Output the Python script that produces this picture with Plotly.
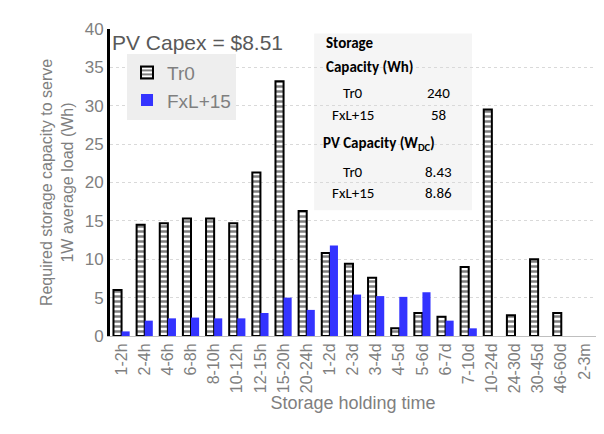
import plotly.graph_objects as go

categories = ["1-2h", "2-4h", "4-6h", "6-8h", "8-10h", "10-12h", "12-15h", "15-20h",
              "20-24h", "1-2d", "2-3d", "3-4d", "4-5d", "5-6d", "6-7d", "7-10d",
              "10-24d", "24-30d", "30-45d", "46-60d", "2-3m"]
tr0 = [6.0, 14.5, 14.7, 15.3, 15.3, 14.7, 21.3, 33.2, 16.3, 10.8, 9.4, 7.6, 1.0,
       3.0, 2.5, 9.0, 29.5, 2.7, 10.0, 3.0, None]
fxl15 = [0.6, 2.0, 2.3, 2.4, 2.3, 2.3, 3.0, 5.0, 3.4, 11.8, 5.4, 5.2, 5.1, 5.7,
         2.0, 1.0, None, None, None, None, None]

fig = go.Figure()
fig.add_trace(go.Bar(
    x=categories, y=tr0, name="Tr0",
    marker=dict(color="white", line=dict(color="black", width=2),
                pattern=dict(shape="-", fgcolor="black", bgcolor="white",
                             size=5, solidity=0.5)),
))
fig.add_trace(go.Bar(
    x=categories, y=fxl15, name="FxL+15",
    marker=dict(color="#3333ff", line=dict(width=0)),
))

grey = "#7f7f7f"
fig.update_layout(
    width=604, height=434,
    margin=dict(l=102, r=16, t=12, b=106),
    paper_bgcolor="white", plot_bgcolor="white",
    barmode="group", bargap=0.3, bargroupgap=0.0,
    font=dict(family="Arial, Liberation Sans", color=grey, size=16),
    showlegend=True,
    legend=dict(x=0.035, y=0.92, xanchor="left", yanchor="top",
                bgcolor="#eeeeee", font=dict(size=19, color=grey),
                tracegroupgap=12),
    xaxis=dict(
        title=dict(text="Storage holding time", font=dict(size=18, color=grey), standoff=4),
        tickangle=-90, tickfont=dict(size=16, color=grey),
        showline=True, linecolor="#bfbfbf", linewidth=1,
    ),
    yaxis=dict(
        title=dict(text="Required storage capacity to serve<br>1W average load (Wh)",
                   font=dict(size=16, color=grey), standoff=8),
        range=[0, 40], dtick=5, tickfont=dict(size=17, color=grey),
        showline=True, linecolor="black", linewidth=3,
        showgrid=True, gridcolor="#d9d9d9", griddash="dot", zeroline=False,
    ),
)

fig.add_annotation(x=0.0, y=1.0, xref="paper", yref="paper", xanchor="left",
                   yanchor="top", showarrow=False, text="PV Capex = $8.51",
                   font=dict(size=21, color="#595959"))

fig.add_shape(type="rect", xref="paper", yref="paper", x0=0.42, x1=0.745,
              y0=0.41, y1=0.985, fillcolor="#f5f5f5", line=dict(width=0),
              layer="below")

tf = dict(size=15, color="black", family="Calibri, Carlito, Liberation Sans")
rows = [
    (0.44, 0.955, "<b>Storage</b>"),
    (0.44, 0.875, "<b>Capacity (Wh)</b>"),
]
for x, y, t in rows:
    fig.add_annotation(x=x, y=y, xref="paper", yref="paper", xanchor="left",
                       yanchor="middle", showarrow=False, text=t, font=tf)
cells = [
    ("Tr0", "240", 0.79), ("FxL+15", "58", 0.72),
    ("Tr0", "8.43", 0.535), ("FxL+15", "8.86", 0.465),
]
for lab, val, y in cells:
    fig.add_annotation(x=0.50, y=y, xref="paper", yref="paper", xanchor="center",
                       yanchor="middle", showarrow=False, text=lab, font=tf)
    fig.add_annotation(x=0.675, y=y, xref="paper", yref="paper", xanchor="center",
                       yanchor="middle", showarrow=False, text=val, font=tf)
fig.add_annotation(x=0.435, y=0.625, xref="paper", yref="paper", xanchor="left",
                   yanchor="middle", showarrow=False,
                   text="<b>PV Capacity (W<sub>DC</sub>)</b>", font=tf)

fig.write_html("out.html")
